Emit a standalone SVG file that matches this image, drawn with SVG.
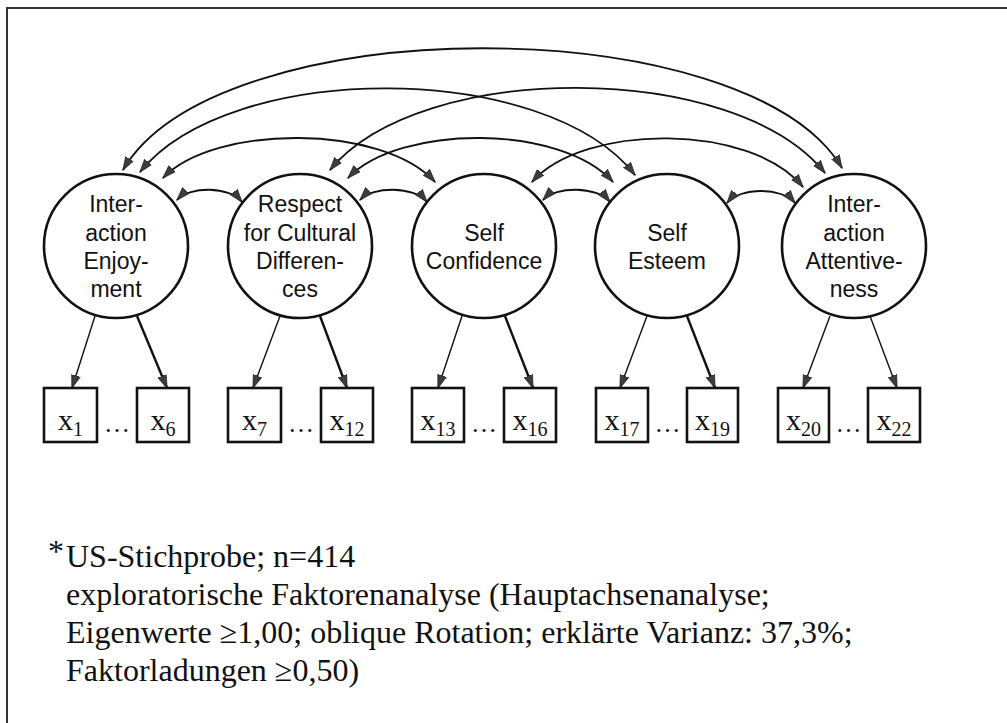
<svg xmlns="http://www.w3.org/2000/svg" width="1007" height="723" viewBox="0 0 1007 723">
<defs>
<style>
.frame{stroke:#333;stroke-width:2;fill:none}
.lat{fill:#fff;stroke:#111;stroke-width:2.6}
.lt{font-family:"Liberation Sans",Arial,sans-serif;font-size:23px;fill:#111;text-anchor:middle}
.box{fill:#fff;stroke:#111;stroke-width:2.6}
.bt{font-family:"Liberation Serif","Times New Roman",serif;font-size:30px;fill:#111}
.sub{font-size:20px}
.dots{font-family:"Liberation Serif","Times New Roman",serif;font-size:26px;fill:#111;text-anchor:middle}
.cov{fill:none;stroke:#111;stroke-width:1.8;marker-start:url(#ah);marker-end:url(#ah)}
.load{fill:none;stroke:#111;stroke-width:1.4;marker-end:url(#ah)}
.load2{fill:none;stroke:#111;stroke-width:2.4;marker-end:url(#ah)}
.fn{font-family:"Liberation Serif","Times New Roman",serif;font-size:32px;fill:#111}
</style>
<marker id="ah" viewBox="0 0 14 10" refX="13" refY="5" markerWidth="14" markerHeight="10" markerUnits="userSpaceOnUse" orient="auto-start-reverse">
<path d="M0,0.5 L13.5,5 L0,9.5 z" fill="#3c3c3c" stroke="#111" stroke-width="0.6"/>
</marker>
</defs>
<rect width="1007" height="723" fill="#fff"/>
<path class="frame" d="M1007,8 H7 V723"/>

<g id="connectors">
<path class="cov" d="M123,170 C218,8 747,8 842,168"/>
<path class="cov" d="M140,172 C230,60 545,60 635,175"/>
<path class="cov" d="M330,170 C420,60 735,60 825,173"/>
<path class="cov" d="M163,178 C215,124 383,124 435,182"/>
<path class="cov" d="M348,178 C400,124 561,124 613,182"/>
<path class="cov" d="M532,182 C584,123 751,123 803,187"/>
<path class="cov" d="M177,200 C190,186 229,186 242,202"/>
<path class="cov" d="M360,200 C373,186 414,186 427,202"/>
<path class="cov" d="M543,200 C556,186 597,186 610,202"/>
<path class="cov" d="M727,203 C740,187 782,187 795,203"/>
<path class="load" d="M95,316 L72,388"/>
<path class="load2" d="M137,316 L167,388"/>
<path class="load" d="M280,316 L253,388"/>
<path class="load2" d="M320,316 L347,388"/>
<path class="load" d="M462,316 L438,388"/>
<path class="load2" d="M505,316 L533,388"/>
<path class="load" d="M647,316 L620,388"/>
<path class="load2" d="M687,316 L715,388"/>
<path class="load" d="M830,316 L803,388"/>
<path class="load" d="M870,316 L897,388"/>
</g>

<g id="interaction-enjoyment">
<circle class="lat" cx="116" cy="246" r="72"/>
<text class="lt" x="116" y="212">Inter-</text>
<text class="lt" x="116" y="241">action</text>
<text class="lt" x="116" y="269">Enjoy-</text>
<text class="lt" x="116" y="297">ment</text>
</g>
<g id="respect-cultural-differences">
<circle class="lat" cx="300" cy="246" r="72"/>
<text class="lt" x="300" y="212">Respect</text>
<text class="lt" x="300" y="241">for Cultural</text>
<text class="lt" x="300" y="269">Differen-</text>
<text class="lt" x="300" y="297">ces</text>
</g>
<g id="self-confidence">
<circle class="lat" cx="484" cy="246" r="72"/>
<text class="lt" x="484" y="241">Self</text>
<text class="lt" x="484" y="269">Confidence</text>
</g>
<g id="self-esteem">
<circle class="lat" cx="667" cy="246" r="72"/>
<text class="lt" x="667" y="241">Self</text>
<text class="lt" x="667" y="269">Esteem</text>
</g>
<g id="interaction-attentiveness">
<circle class="lat" cx="854" cy="246" r="72"/>
<text class="lt" x="854" y="212">Inter-</text>
<text class="lt" x="854" y="241">action</text>
<text class="lt" x="854" y="269">Attentive-</text>
<text class="lt" x="854" y="297">ness</text>
</g>

<g id="x1"><rect class="box" x="44" y="388" width="53" height="54"/><text class="bt" x="70.5" y="430" text-anchor="middle">x<tspan class="sub" dy="6">1</tspan></text></g>
<text class="dots" x="117" y="432">…</text>
<g id="x6"><rect class="box" x="137" y="388" width="52" height="54"/><text class="bt" x="163" y="430" text-anchor="middle">x<tspan class="sub" dy="6">6</tspan></text></g>
<g id="x7"><rect class="box" x="228" y="388" width="53" height="54"/><text class="bt" x="254.5" y="430" text-anchor="middle">x<tspan class="sub" dy="6">7</tspan></text></g>
<text class="dots" x="301" y="432">…</text>
<g id="x12"><rect class="box" x="321" y="388" width="52" height="54"/><text class="bt" x="347" y="430" text-anchor="middle">x<tspan class="sub" dy="6">12</tspan></text></g>
<g id="x13"><rect class="box" x="412" y="388" width="52" height="54"/><text class="bt" x="438" y="430" text-anchor="middle">x<tspan class="sub" dy="6">13</tspan></text></g>
<text class="dots" x="484" y="432">…</text>
<g id="x16"><rect class="box" x="504" y="388" width="52" height="54"/><text class="bt" x="530" y="430" text-anchor="middle">x<tspan class="sub" dy="6">16</tspan></text></g>
<g id="x17"><rect class="box" x="596" y="388" width="52" height="54"/><text class="bt" x="622" y="430" text-anchor="middle">x<tspan class="sub" dy="6">17</tspan></text></g>
<text class="dots" x="667.5" y="432">…</text>
<g id="x19"><rect class="box" x="687" y="388" width="51" height="54"/><text class="bt" x="712.5" y="430" text-anchor="middle">x<tspan class="sub" dy="6">19</tspan></text></g>
<g id="x20"><rect class="box" x="778" y="388" width="51" height="54"/><text class="bt" x="803.5" y="430" text-anchor="middle">x<tspan class="sub" dy="6">20</tspan></text></g>
<text class="dots" x="848.5" y="432">…</text>
<g id="x22"><rect class="box" x="868" y="388" width="52" height="54"/><text class="bt" x="894" y="430" text-anchor="middle">x<tspan class="sub" dy="6">22</tspan></text></g>

<g id="footnote">
<text class="fn" x="48" y="562" font-size="18">*</text>
<text class="fn" x="66" y="567">US-Stichprobe; n=414</text>
<text class="fn" x="66" y="605">exploratorische Faktorenanalyse (Hauptachsenanalyse;</text>
<text class="fn" x="66" y="643">Eigenwerte ≥1,00; oblique Rotation; erklärte Varianz: 37,3%;</text>
<text class="fn" x="66" y="681">Faktorladungen ≥0,50)</text>
</g>
</svg>
